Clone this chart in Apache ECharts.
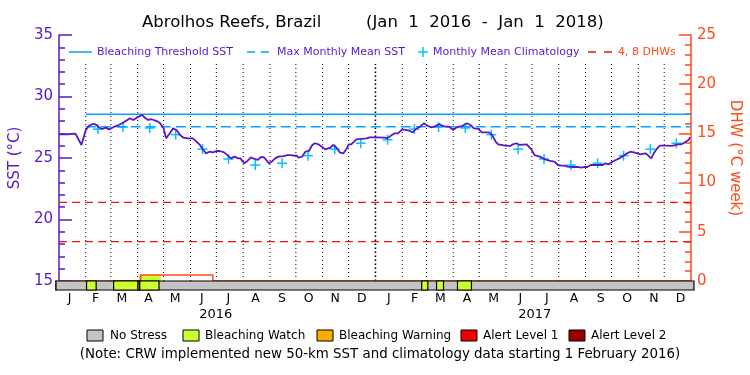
<!DOCTYPE html>
<html><head><meta charset="utf-8">
<script src="https://cdn.jsdelivr.net/npm/echarts@6/dist/echarts.min.js"></script>
<style>html,body{margin:0;padding:0;background:#fff}#c{width:750px;height:375px}</style>
</head><body><div id="c"></div>
<script>
// ---------------- DATA ----------------
const sstDates = [
'2016-01-01','2016-01-11','2016-01-20','2016-01-22','2016-01-27','2016-02-01','2016-02-05','2016-02-09','2016-02-12','2016-02-16',
'2016-02-20','2016-02-24','2016-02-28','2016-03-01','2016-03-06','2016-03-10','2016-03-14','2016-03-20','2016-03-23','2016-03-27',
'2016-03-31','2016-04-06','2016-04-10','2016-04-13','2016-04-17','2016-04-23','2016-04-27','2016-05-01','2016-05-04','2016-05-08',
'2016-05-12','2016-05-16','2016-05-20','2016-05-24','2016-05-29','2016-06-04','2016-06-08','2016-06-12','2016-06-16','2016-06-19',
'2016-06-23','2016-06-27','2016-07-01','2016-07-05','2016-07-10','2016-07-12','2016-07-18','2016-07-22','2016-07-26','2016-07-29',
'2016-08-02','2016-08-06','2016-08-10','2016-08-14','2016-08-18','2016-08-21','2016-08-25','2016-08-31','2016-09-04','2016-09-07',
'2016-09-11','2016-09-17','2016-09-21','2016-09-25','2016-09-29','2016-10-02','2016-10-04','2016-10-08','2016-10-12','2016-10-16',
'2016-10-20','2016-10-23','2016-10-27','2016-10-31','2016-11-04','2016-11-10','2016-11-13','2016-11-17','2016-11-21','2016-11-25',
'2016-11-29','2016-12-01','2016-12-04','2016-12-06','2016-12-10','2016-12-16','2016-12-22','2016-12-25','2016-12-31',
'2017-01-12','2017-01-15','2017-01-19','2017-01-23','2017-01-27','2017-02-01','2017-02-05','2017-02-09','2017-02-13','2017-02-17',
'2017-02-21','2017-02-26','2017-03-02','2017-03-06','2017-03-10','2017-03-16','2017-03-19','2017-03-23','2017-03-27','2017-04-01',
'2017-04-05','2017-04-11','2017-04-17','2017-04-21','2017-04-25','2017-04-30','2017-05-04','2017-05-12','2017-05-16','2017-05-20',
'2017-05-23','2017-05-31','2017-06-06','2017-06-09','2017-06-13','2017-06-17','2017-06-25','2017-06-30','2017-07-04','2017-07-10',
'2017-07-14','2017-07-18','2017-07-22','2017-07-27','2017-07-31','2017-08-04','2017-08-08','2017-08-11','2017-08-17','2017-08-23',
'2017-08-27','2017-08-31','2017-09-03','2017-09-07','2017-09-13','2017-09-21','2017-09-24','2017-09-28','2017-10-02','2017-10-06',
'2017-10-10','2017-10-15','2017-10-19','2017-10-23','2017-10-27','2017-10-31','2017-11-03','2017-11-09','2017-11-12','2017-11-16',
'2017-11-19','2017-11-23','2017-11-26','2017-12-04','2017-12-10','2017-12-12','2017-12-17','2017-12-21','2017-12-25','2017-12-29',
'2017-12-31'
];
const sstValues = [
26.93,26.93,26.98,26.87,26.06,27.28,27.63,27.76,27.76,27.50,
27.36,27.47,27.33,27.47,27.58,27.68,27.82,28.09,28.23,28.09,
28.28,28.50,28.23,28.09,28.15,28.00,27.82,27.41,26.60,27.00,
27.41,27.28,26.87,26.65,26.60,26.60,26.33,26.06,25.65,25.38,
25.51,25.46,25.57,25.57,25.46,25.30,24.97,25.11,24.97,24.97,
24.57,24.76,25.06,24.92,24.84,25.06,25.06,24.57,24.76,24.97,
25.11,25.16,25.24,25.24,25.19,25.19,25.02,25.11,25.51,25.57,
26.06,26.20,26.11,25.92,25.70,25.84,26.06,25.84,25.43,25.38,
25.79,26.11,26.11,26.06,26.52,26.55,26.60,26.68,26.68,
26.65,26.60,26.82,27.00,27.00,27.33,27.28,27.22,27.09,27.36,
27.52,27.82,27.63,27.50,27.55,27.76,27.63,27.55,27.55,27.28,
27.50,27.60,27.82,27.68,27.41,27.36,27.09,27.09,26.87,26.33,
26.11,26.00,25.98,26.11,26.20,26.06,26.11,25.73,25.24,25.11,
24.97,24.84,24.76,24.70,24.43,24.38,24.38,24.30,24.27,24.27,
24.21,24.27,24.27,24.43,24.43,24.43,24.57,24.49,24.70,24.84,
24.97,25.19,25.38,25.51,25.46,25.38,25.30,25.38,25.24,24.97,
25.38,25.79,26.00,26.00,25.98,26.06,26.11,26.11,26.28,26.46,
26.68
];
const climDates = ['2016-02-15','2016-03-15','2016-04-15','2016-05-15','2016-06-15','2016-07-15','2016-08-15','2016-09-15','2016-10-15','2016-11-15','2016-12-15',
  '2017-01-15','2017-02-15','2017-03-15','2017-04-15','2017-05-15','2017-06-15','2017-07-15','2017-08-15','2017-09-15','2017-10-15','2017-11-15','2017-12-15'];
const climValues = [27.35,27.52,27.44,26.90,25.72,24.92,24.43,24.57,25.19,25.72,26.20,
  26.48,27.35,27.52,27.44,26.90,25.72,24.92,24.43,24.57,25.19,25.72,26.20];
const thresholdStart = '2016-02-01';
const bleachingThreshold = 28.55;
const maxMonthlyMean = 27.55;
const dhwRefLevels = [4, 8];
const dhwDates = ['2016-01-01','2016-04-04','2016-06-27','2018-01-01'];
const dhwValues = [0, 0.6, 0, 0];
const statusStart = ['2016-01-01','2016-02-05','2016-03-07','2016-04-04','2016-04-06','2017-02-23','2017-03-12','2017-04-05'];
const statusEnd   = ['2018-01-01','2016-02-16','2016-04-04','2016-04-06','2016-04-28','2017-03-02','2017-03-20','2017-04-21'];
const statusLevel = [0,1,1,2,1,1,1,1];
const statusNames = ['No Stress','Bleaching Watch','Bleaching Warning','Alert Level 1','Alert Level 2'];
const monthLabels = ['J','F','M','A','M','J','J','A','S','O','N','D'];
const yearLabels = ['2016','2017'];
const sstTicks = [15,20,25,30,35];
const dhwTicks = [0,5,10,15,20,25];

// ---------------- STYLE ----------------
const PURPLE = '#5b16c8', BLUE = '#0aa0ff', CYAN = '#00c4ff', RED = '#f01414', ORANGE = '#ff4a1a';
const statusColors = ['#c4c4c4','#ccff33','#ffaa00','#ee0000','#990000'];
const FONT = 'DejaVu Sans';
const T = s => { const [y,m,d] = s.split('-').map(Number); return Date.UTC(y, m-1, d); };
const X0 = T('2016-01-01'), X1 = T('2018-01-01');

const sstData = sstDates.map((d,i) => [T(d), sstValues[i]]);
const climData = climDates.map((d,i) => [T(d), climValues[i]]);
const dhwData = dhwDates.map((d,i) => [T(d), dhwValues[i]]);
const dhwAt = t => { let v = 0; dhwData.forEach(p => { if (p[0] <= t) v = p[1]; }); return v; };
const statusData = statusStart.map((s,i) => [T(s), T(statusEnd[i]), statusLevel[i], dhwAt(T(s))]);

const monthStarts = [];
yearLabels.forEach(y => { for (let m = 0; m < 12; m++) monthStarts.push(Date.UTC(+y, m, 1)); });
const monthData = monthStarts.map((t,i) => [t, i < monthStarts.length-1 ? monthStarts[i+1] : X1, i]);
const boundaryData = monthStarts.slice(1).map(t => [t, 15]);
const yearData = yearLabels.map(y => [Date.UTC(+y,0,1), Date.UTC(+y+1,0,1)]);

const chart = echarts.init(document.getElementById('c'), null, {renderer:'canvas'});

const option = {
  useUTC: true,
  animation: false,
  backgroundColor: '#fff',
  grid: [
    {left: 56, top: 35, width: 638, height: 246},
    {left: 56, top: 281, width: 638, height: 9}
  ],
  xAxis: [
    {type:'time', gridIndex:0, min:X0, max:X1, position:'top',
     axisLine:{show:true, lineStyle:{color:'#000', width:1}}, axisTick:{show:false}, axisLabel:{show:false}, splitLine:{show:false}},
    {type:'time', gridIndex:1, min:X0, max:X1, position:'bottom',
     axisLine:{show:false}, axisTick:{show:false}, axisLabel:{show:false}, splitLine:{show:false}}
  ],
  yAxis: [
    {type:'value', gridIndex:0, min:sstTicks[0], max:sstTicks[sstTicks.length-1], interval:5, position:'left',
     name:'SST (°C)', nameLocation:'middle', nameGap:32, nameRotate:90,
     nameTextStyle:{color:PURPLE, fontSize:15, fontFamily:FONT},
     axisLine:{show:true, lineStyle:{color:PURPLE, width:1.5}},
     axisTick:{show:true, inside:true, length:13, lineStyle:{color:PURPLE, width:1.5}},
     minorTick:{show:true, splitNumber:5, length:6, lineStyle:{color:PURPLE, width:1.5}},
     axisLabel:{color:PURPLE, fontSize:15, fontFamily:FONT, margin:6},
     splitLine:{show:false}},
    {type:'value', gridIndex:0, min:dhwTicks[0], max:dhwTicks[dhwTicks.length-1], interval:5, position:'right',
     name:'DHW (°C week)', nameLocation:'middle', nameGap:30, nameRotate:-90,
     nameTextStyle:{color:ORANGE, fontSize:15, fontFamily:FONT},
     axisLine:{show:true, lineStyle:{color:ORANGE, width:1.5}},
     axisTick:{show:true, inside:true, length:12, lineStyle:{color:ORANGE, width:1.5}},
     minorTick:{show:true, splitNumber:5, length:6, lineStyle:{color:ORANGE, width:1.5}},
     axisLabel:{color:ORANGE, fontSize:15, fontFamily:FONT, margin:6},
     splitLine:{show:false}},
    {type:'value', gridIndex:1, min:0, max:1, position:'left',
     axisLine:{show:true, lineStyle:{color:PURPLE, width:1.5}}, axisTick:{show:false}, axisLabel:{show:false}, splitLine:{show:false}}
  ],
  graphic: [
    {type:'text', left:142, top:14, style:{text:'Abrolhos Reefs, Brazil', fill:'#000', font:'16.5px '+FONT}},
    {type:'text', left:366, top:14, style:{text:'(Jan  1  2016  -  Jan  1  2018)', fill:'#000', font:'16.5px '+FONT}},
    // top legend
    {type:'line', shape:{x1:69,y1:52,x2:92,y2:52}, style:{stroke:BLUE, lineWidth:1.5}},
    {type:'text', x:97, y:52, style:{text:'Bleaching Threshold SST', fill:PURPLE, font:'11px '+FONT, verticalAlign:'middle'}},
    {type:'line', shape:{x1:247,y1:52,x2:269,y2:52}, style:{stroke:BLUE, lineWidth:1.5, lineDash:[8,6]}},
    {type:'text', x:277, y:52, style:{text:'Max Monthly Mean SST', fill:PURPLE, font:'11px '+FONT, verticalAlign:'middle'}},
    {type:'line', shape:{x1:418,y1:52,x2:428,y2:52}, style:{stroke:CYAN, lineWidth:1.5}},
    {type:'line', shape:{x1:423,y1:47,x2:423,y2:57}, style:{stroke:CYAN, lineWidth:1.5}},
    {type:'text', x:433, y:52, style:{text:'Monthly Mean Climatology', fill:PURPLE, font:'11px '+FONT, verticalAlign:'middle'}},
    {type:'line', shape:{x1:588,y1:52,x2:612,y2:52}, style:{stroke:RED, lineWidth:1.5, lineDash:[8,8]}},
    {type:'text', x:618, y:52, style:{text:'4, 8 DHWs', fill:ORANGE, font:'11px '+FONT, verticalAlign:'middle'}},
    // bottom legend
    ...[[87,110],[183,205],[317,339],[461,483],[569,591]].flatMap((p,i) => [
      {type:'rect', shape:{x:p[0], y:330, width:16, height:11}, style:{fill:statusColors[i], stroke:'#000', lineWidth:1}},
      {type:'text', x:p[1], y:336, style:{text:statusNames[i], fill:'#000', font:'12px '+FONT, verticalAlign:'middle'}}
    ]),
    {type:'text', x:380, y:355, style:{text:'(Note: CRW implemented new 50-km SST and climatology data starting 1 February 2016)', fill:'#000', font:'13.4px '+FONT, align:'center', verticalAlign:'middle'}}
  ],
  series: [
    {type:'line', xAxisIndex:0, yAxisIndex:1, data:[[X0,dhwRefLevels[0]],[X1,dhwRefLevels[0]]], symbol:'none', silent:true,
     lineStyle:{color:RED, width:1.2, type:[8,5]}},
    {type:'line', xAxisIndex:0, yAxisIndex:1, data:[[X0,dhwRefLevels[1]],[X1,dhwRefLevels[1]]], symbol:'none', silent:true,
     lineStyle:{color:RED, width:1.2, type:[8,5]}},
    {type:'custom', xAxisIndex:0, yAxisIndex:0, data:boundaryData, silent:true,
     renderItem:(params, api) => {
       const p = api.coord([api.value(0), api.value(1)]);
       const isYear = new Date(api.value(0)).getUTCMonth() === 0;
       return {type:'line', shape:{x1:p[0], y1:p[1], x2:p[0], y2:64},
         style:{stroke:'#000', lineWidth:isYear?1.6:1, lineDash:isYear?[1.5,2.5]:[1,3]}};
     }},
    {type:'line', xAxisIndex:0, yAxisIndex:0, data:[[T(thresholdStart),bleachingThreshold],[X1,bleachingThreshold]], symbol:'none', silent:true,
     lineStyle:{color:BLUE, width:1.5}},
    {type:'line', xAxisIndex:0, yAxisIndex:0, data:[[T(thresholdStart),maxMonthlyMean],[X1,maxMonthlyMean]], symbol:'none', silent:true,
     lineStyle:{color:BLUE, width:1.5, type:[10,5]}},
    {type:'line', xAxisIndex:0, yAxisIndex:0, data:sstData, symbol:'none', silent:true,
     lineStyle:{color:PURPLE, width:1.8}},
    {type:'custom', xAxisIndex:0, yAxisIndex:0, data:climData, silent:true,
     renderItem:(params, api) => {
       const p = api.coord([api.value(0), api.value(1)]);
       return {type:'group', children:[
         {type:'line', shape:{x1:p[0]-5, y1:p[1], x2:p[0]+5, y2:p[1]}, style:{stroke:CYAN, lineWidth:1.5}},
         {type:'line', shape:{x1:p[0], y1:p[1]-5, x2:p[0], y2:p[1]+5}, style:{stroke:CYAN, lineWidth:1.5}}
       ]};
     }},
    {type:'custom', xAxisIndex:0, yAxisIndex:1, data:statusData, silent:true,
     renderItem:(params, api) => {
       const lvl = api.value(2), dv = api.value(3);
       if (lvl === 0 || dv <= 0) return null;
       const a = api.coord([api.value(0), 0]), b = api.coord([api.value(1), dv]);
       return {type:'rect', shape:{x:a[0], y:b[1], width:b[0]-a[0], height:a[1]-b[1]}, style:{fill:statusColors[lvl]}};
     }},
    {type:'line', xAxisIndex:0, yAxisIndex:1, data:dhwData, step:'end', symbol:'none', silent:true,
     lineStyle:{color:ORANGE, width:1.5}},
    {type:'custom', xAxisIndex:1, yAxisIndex:2, data:statusData, silent:true, z:5,
     renderItem:(params, api) => {
       const a = api.coord([api.value(0), 0]), b = api.coord([api.value(1), 1]);
       return {type:'rect', shape:{x:a[0], y:b[1], width:b[0]-a[0], height:a[1]-b[1]},
         style:{fill:statusColors[api.value(2)], stroke:'#000', lineWidth:1.2}};
     }},
    {type:'custom', xAxisIndex:1, yAxisIndex:2, data:monthData, silent:true, clip:false,
     renderItem:(params, api) => {
       const a = api.coord([api.value(0), 0]), b = api.coord([api.value(1), 0]);
       return {type:'text', x:(a[0]+b[0])/2, y:a[1]+9,
         style:{text:monthLabels[api.value(2) % 12], fill:'#000', font:'12.5px '+FONT, align:'center', verticalAlign:'middle'}};
     }},
    {type:'custom', xAxisIndex:1, yAxisIndex:2, data:yearData, silent:true, clip:false,
     renderItem:(params, api) => {
       const a = api.coord([api.value(0), 0]), b = api.coord([api.value(1), 0]);
       return {type:'text', x:(a[0]+b[0])/2, y:a[1]+25,
         style:{text:yearLabels[params.dataIndex], fill:'#000', font:'13px '+FONT, align:'center', verticalAlign:'middle'}};
     }}
  ]
};
chart.setOption(option);
</script>
</body></html>
